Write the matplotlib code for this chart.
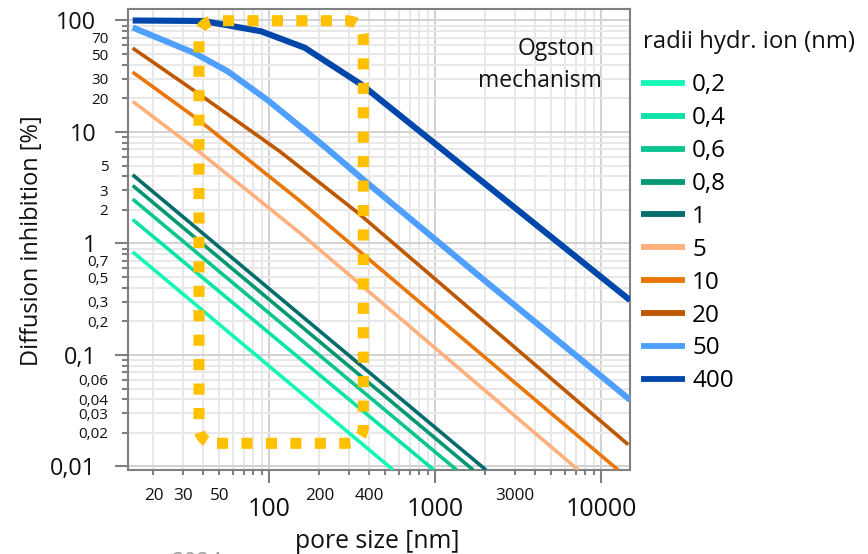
import matplotlib
matplotlib.use('Agg')
import matplotlib.pyplot as plt
from matplotlib.patches import FancyBboxPatch
from matplotlib.ticker import FixedLocator, FixedFormatter

plt.rcParams['font.family'] = ['Open Sans', 'DejaVu Sans']

# ---------------- data ----------------
series_labels = ['0,2', '0,4', '0,6', '0,8', '1', '5', '10', '20', '50', '400']
legend_title = 'radii hydr. ion (nm)'

x_r02 = [15, 557]
y_r02 = [0.84, 0.0093]
x_r04 = [15, 979]
y_r04 = [1.64, 0.0093]
x_r06 = [15, 1343]
y_r06 = [2.5, 0.0093]
x_r08 = [15, 1690]
y_r08 = [3.31, 0.0093]
x_r1 = [15, 2017]
y_r1 = [4.13, 0.0093]
x_r5 = [15, 37, 153, 7260]
y_r5 = [18.8, 6.8, 1.24, 0.0093]
x_r10 = [15, 37, 153, 12620]
y_r10 = [34.4, 13.0, 2.4, 0.0093]
x_r20 = [15, 37, 115.7, 343, 14500]
y_r20 = [56.5, 22.3, 6.68, 1.87, 0.0157]
x_r50 = [15, 35.4, 56.2, 98, 215, 359, 2033, 14860]
y_r50 = [86.5, 51, 34.9, 19.2, 7.4, 3.85, 0.45, 0.0396]
x_r400 = [15, 40, 89, 163, 360, 14860]
y_r400 = [100, 99, 80, 57, 26.5, 0.31]

x_major_ticks = [100, 1000, 10000]
x_major_labels = ['100', '1000', '10000']
x_minor_ticks = [20, 30, 40, 50, 60, 70, 80, 90,
                 200, 300, 400, 500, 600, 700, 800, 900,
                 2000, 3000, 4000, 5000, 6000, 7000, 8000, 9000]
x_minor_labels = ['20', '30', '', '50', '', '', '', '',
                  '200', '', '400', '', '', '', '', '',
                  '', '3000', '', '', '', '', '', '']

y_major_ticks = [0.01, 0.1, 1, 10, 100]
y_major_labels = ['0,01', '0,1', '1', '10', '100']
y_minor_ticks = [0.02, 0.03, 0.04, 0.05, 0.06, 0.07, 0.08, 0.09,
                 0.2, 0.3, 0.4, 0.5, 0.6, 0.7, 0.8, 0.9,
                 2, 3, 4, 5, 6, 7, 8, 9,
                 20, 30, 40, 50, 60, 70, 80, 90]
y_minor_labels = ['0,02', '0,03', '0,04', '', '0,06', '', '', '',
                  '0,2', '0,3', '', '0,5', '', '0,7', '', '',
                  '2', '3', '', '5', '', '', '', '',
                  '20', '30', '', '50', '', '70', '', '']

# ---------------- styling ----------------
colors = ['#14F7B6', '#0BE3A8', '#0AC58F', '#069775', '#046D6C',
          '#FFB07C', '#E87609', '#BD5700', '#4F9FFF', '#0047AB']
widths = [2.6, 2.6, 2.6, 2.6, 2.6, 2.6, 2.6, 2.6, 4.4, 4.4]

xs = [x_r02, x_r04, x_r06, x_r08, x_r1, x_r5, x_r10, x_r20, x_r50, x_r400]
ys = [y_r02, y_r04, y_r06, y_r08, y_r1, y_r5, y_r10, y_r20, y_r50, y_r400]

W, H = 868, 554
fig = plt.figure(figsize=(W / 100, H / 100), dpi=100)
ax_l, ax_r, ax_t, ax_b = 127.7, 630.0, 9.3, 470.0
ax = fig.add_axes([ax_l / W, 1 - ax_b / H, (ax_r - ax_l) / W, (ax_b - ax_t) / H])

handles = []
for x, y, c, lw, lab in zip(xs, ys, colors, widths, series_labels):
    h, = ax.plot(x, y, color=c, lw=lw, label=lab, solid_capstyle='butt',
                 solid_joinstyle='round', zorder=3)
    handles.append(h)

ax.set_xscale('log')
ax.set_yscale('log')
ax.set_xlim(14.0, 14860)
ax.set_ylim(0.0093, 126)

ax.xaxis.set_major_locator(FixedLocator(x_major_ticks))
ax.xaxis.set_major_formatter(FixedFormatter(x_major_labels))
ax.xaxis.set_minor_locator(FixedLocator(x_minor_ticks))
ax.xaxis.set_minor_formatter(FixedFormatter(x_minor_labels))
ax.yaxis.set_major_locator(FixedLocator(y_major_ticks))
ax.yaxis.set_major_formatter(FixedFormatter(y_major_labels))
ax.yaxis.set_minor_locator(FixedLocator(y_minor_ticks))
ax.yaxis.set_minor_formatter(FixedFormatter(y_minor_labels))

spine_c = '#808080'
txt_c = '#111111'
ax.tick_params(axis='x', which='major', length=9.5, width=1.5, color=spine_c,
               labelsize=18, pad=10, labelcolor=txt_c)
ax.tick_params(axis='x', which='minor', length=3.6, width=1.5, color=spine_c,
               labelsize=12.3, pad=9.3, labelcolor=txt_c)
ax.tick_params(axis='y', which='major', length=9.6, width=1.5, color=spine_c,
               labelsize=16.8, pad=12.9, labelcolor=txt_c)
ax.tick_params(axis='y', which='minor', length=4.5, width=1.5, color=spine_c,
               labelsize=11, pad=9.5, labelcolor=txt_c)

ax.grid(which='major', color='#D2D2D2', lw=1.4)
ax.grid(which='minor', color='#E8E8E8', lw=1.4)
ax.set_axisbelow(True)
for s in ax.spines.values():
    s.set_color(spine_c)
    s.set_linewidth(1.5)

# yellow dotted rounded rectangle (annotation shape)
aw, ah = ax_r - ax_l, ax_b - ax_t
bx0, bx1 = (199 - ax_l) / aw, (363.3 - ax_l) / aw
by0, by1 = (ax_b - 443.3) / ah, (ax_b - 20.7) / ah
R = 18 / aw
box = FancyBboxPatch((bx0, by0), bx1 - bx0, by1 - by0,
                     boxstyle=f"round,pad=0,rounding_size={R}",
                     mutation_aspect=aw / ah, transform=ax.transAxes,
                     fill=False, ec='#FFC000', lw=8.0, linestyle=(0, (1, 1.2)),
                     clip_on=False, zorder=6)
ax.add_patch(box)

# texts
fig.text(595 / W, 1 - 55 / H, 'Ogston', ha='right', va='baseline', fontsize=16.5, color=txt_c)
fig.text(602 / W, 1 - 87 / H, 'mechanism', ha='right', va='baseline', fontsize=16.5, color=txt_c)
fig.text(377.5 / W, 1 - 548 / H, 'pore size [nm]', ha='center', va='baseline', fontsize=17.8, color=txt_c)
fig.text(32 / W, 1 - 241 / H, 'Diffusion inhibition [%]', rotation=90,
         ha='center', va='center', fontsize=17.0, color=txt_c)
fig.text(172 / W, 1 - 552.5 / H, '2024', ha='left', va='top', fontsize=16, color='#9A9A9A')
fig.text(643 / W, 1 - 41.7 / H, legend_title, ha='left', va='center', fontsize=17.2, color=txt_c)

leg = ax.legend(handles, series_labels, loc='upper left', bbox_to_anchor=(641 / W, 1 - 73.5 / H),
                bbox_transform=fig.transFigure, frameon=False,
                fontsize=17.5, handlelength=1.8, handletextpad=0.3,
                labelspacing=0.365, borderpad=0, borderaxespad=0)
for lh in leg.get_lines():
    lh.set_linewidth(4.2)

fig.savefig('out.png', dpi=100)
